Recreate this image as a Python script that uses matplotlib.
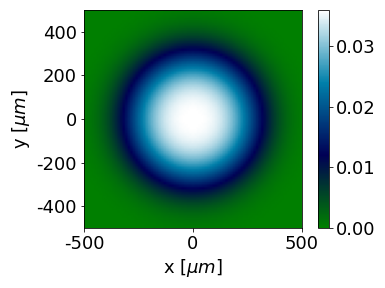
import numpy as np
import matplotlib.pyplot as plt

# beam parameters
peak = 0.036        # intensity at centre
waist = 315.0       # um
order = 3.0         # super-gaussian exponent
half_width = 500.0  # um, field of view
n_pts = 85

x = np.linspace(-half_width, half_width, n_pts)
y = np.linspace(-half_width, half_width, n_pts)
X, Y = np.meshgrid(x, y)
R = np.sqrt(X**2 + Y**2)
I = peak * np.exp(-(R / waist) ** order)

plt.rcParams['font.size'] = 18
plt.rcParams['axes.unicode_minus'] = False

fig = plt.figure(figsize=(385 / 72, 288 / 72), dpi=72)
ax = fig.add_axes([84 / 385, 60 / 288, 218 / 385, 218 / 288])
cax = fig.add_axes([318 / 385, 60 / 288, 11 / 385, 218 / 288])

im = ax.imshow(I, cmap='ocean', origin='lower',
               extent=[-half_width, half_width, -half_width, half_width],
               vmin=0)
ax.set_xticks([-500, 0, 500])
ax.set_yticks([-400, -200, 0, 200, 400])
ax.set_xlabel(r'x [$\mu m$]')
ax.set_ylabel(r'y [$\mu m$]')

cb = fig.colorbar(im, cax=cax)
cb.set_ticks([0.0, 0.01, 0.02, 0.03])
cb.ax.yaxis.set_major_formatter(plt.FormatStrFormatter('%.2f'))

fig.savefig('out.png', dpi=72)
